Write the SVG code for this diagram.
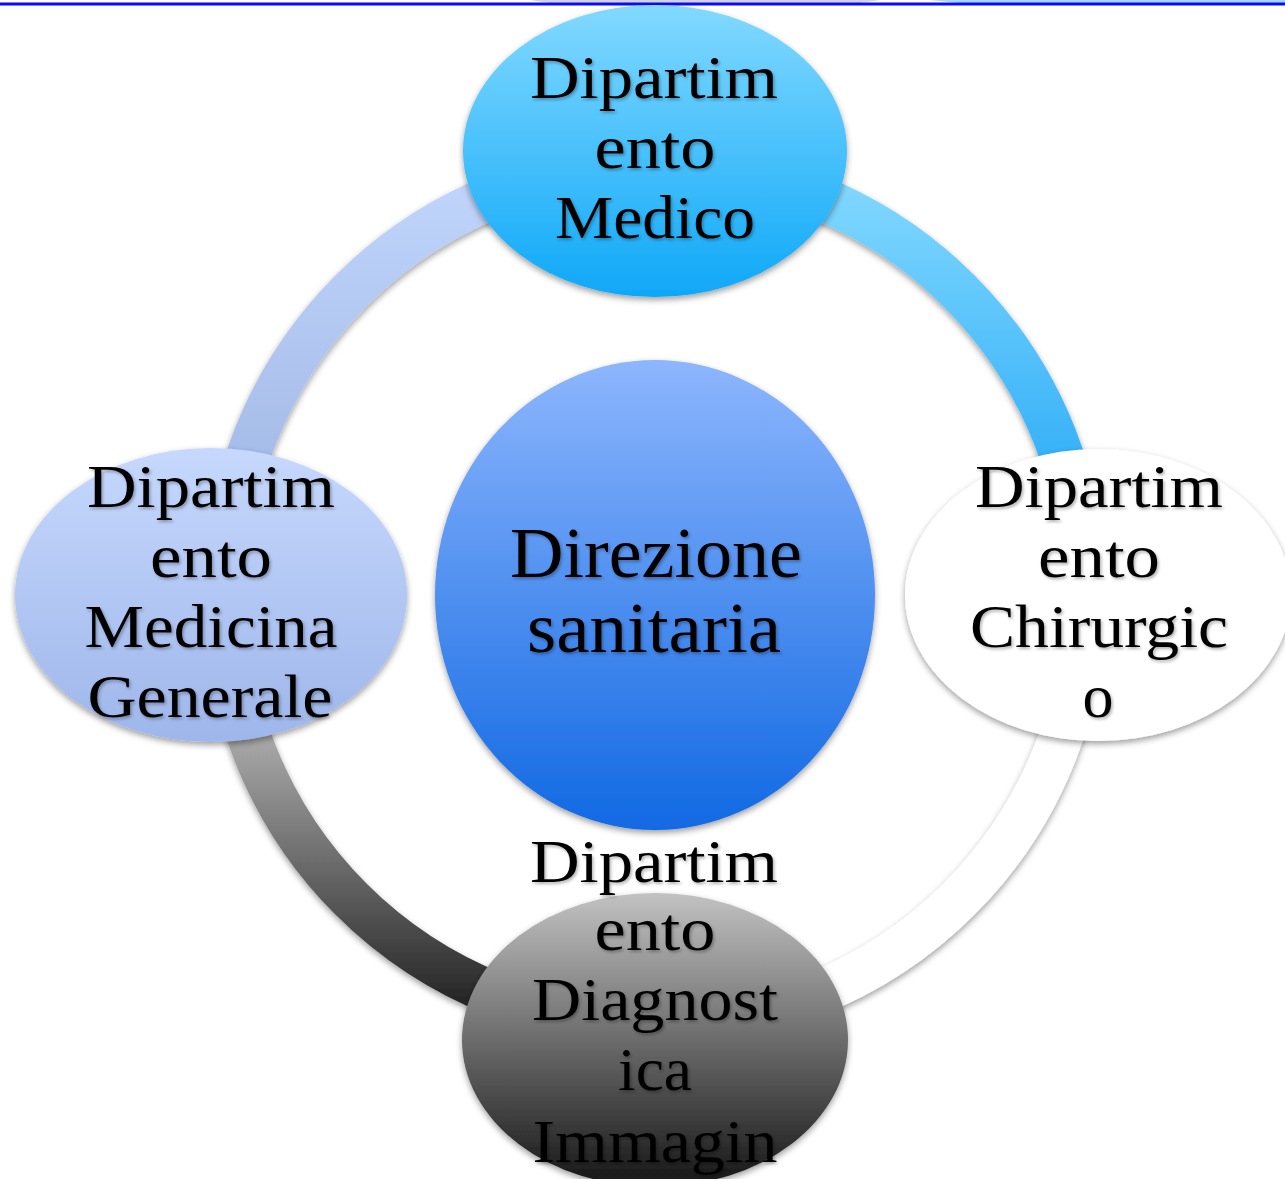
<svg xmlns="http://www.w3.org/2000/svg" width="1285" height="1179" viewBox="0 0 1285 1179">
<style>
.lbl{font-family:"Liberation Serif","Times New Roman",serif;font-size:62px;fill:#000;text-anchor:middle;filter:url(#tsh)}
.big{font-size:71px}
.arc{fill:none;stroke-width:44}
</style>
<defs>
<filter id="sh" x="-20%" y="-20%" width="140%" height="140%">
<feDropShadow dx="0" dy="3" stdDeviation="3" flood-color="#000" flood-opacity="0.38"/>
</filter>
<filter id="tsh" x="-10%" y="-20%" width="120%" height="150%">
<feDropShadow dx="1.5" dy="2" stdDeviation="1.5" flood-color="#000" flood-opacity="0.3"/>
</filter>
<linearGradient id="gTop" x1="0" y1="0" x2="0" y2="1"><stop offset="0" stop-color="#82d9ff"/><stop offset="1" stop-color="#0fa8f8"/></linearGradient>
<linearGradient id="gCenter" x1="0" y1="0" x2="0" y2="1"><stop offset="0" stop-color="#8db6fd"/><stop offset="1" stop-color="#1169e3"/></linearGradient>
<linearGradient id="gLeft" x1="0" y1="0" x2="0" y2="1"><stop offset="0" stop-color="#c6d8fd"/><stop offset="1" stop-color="#9eb6ea"/></linearGradient>
<linearGradient id="gBottom" x1="0" y1="0" x2="0" y2="1"><stop offset="0" stop-color="#c2c2c2"/><stop offset="1" stop-color="#151515"/></linearGradient>
<linearGradient id="aTR" gradientUnits="userSpaceOnUse" x1="0" y1="165" x2="0" y2="455"><stop offset="0" stop-color="#86daff"/><stop offset="1" stop-color="#38b2f8"/></linearGradient>
<linearGradient id="aTL" gradientUnits="userSpaceOnUse" x1="0" y1="165" x2="0" y2="455"><stop offset="0" stop-color="#c2d6fc"/><stop offset="1" stop-color="#a6bde9"/></linearGradient>
<linearGradient id="aBL" gradientUnits="userSpaceOnUse" x1="0" y1="740" x2="0" y2="1010"><stop offset="0" stop-color="#a8a8a8"/><stop offset="1" stop-color="#222222"/></linearGradient>
</defs>
<rect width="1285" height="1179" fill="#fff"/>
<g id="topbar">
<path d="M530 0 L880 0 L860 3 L550 3 Z" fill="#d4d4d4"/>
<path d="M930 0 L1285 0 L1285 3 L960 3 Z" fill="#a8d8f8"/>
<line x1="0" y1="4" x2="1285" y2="4" stroke="#0a0aff" stroke-width="3"/>
</g>
<g id="connectors" filter="url(#sh)">
<path class="arc" d="M655 165 A430 430 0 0 1 1085 595" stroke="url(#aTR)"/>
<path class="arc" d="M1085 595 A430 430 0 0 1 655 1025" stroke="#ffffff"/>
<path class="arc" d="M655 1025 A430 430 0 0 1 225 595" stroke="url(#aBL)"/>
<path class="arc" d="M225 595 A430 430 0 0 1 655 165" stroke="url(#aTL)"/>
</g>
<g id="center">
<ellipse cx="655" cy="595" rx="220" ry="235" fill="url(#gCenter)" filter="url(#sh)"/>
<text class="lbl big" x="656" y="577" textLength="292" lengthAdjust="spacingAndGlyphs">Direzione</text>
<text class="lbl big" x="654" y="652" textLength="254" lengthAdjust="spacingAndGlyphs">sanitaria</text>
</g>
<g id="top">
<ellipse cx="655" cy="151" rx="192" ry="146" fill="url(#gTop)" filter="url(#sh)"/>
<text class="lbl" x="654" y="98" textLength="248" lengthAdjust="spacingAndGlyphs">Dipartim</text>
<text class="lbl" x="655" y="168" textLength="121" lengthAdjust="spacingAndGlyphs">ento</text>
<text class="lbl" x="655" y="238" textLength="200" lengthAdjust="spacingAndGlyphs">Medico</text>
</g>
<g id="right">
<ellipse cx="1098" cy="595" rx="193" ry="146" fill="#ffffff" filter="url(#sh)"/>
<text class="lbl" x="1099" y="507" textLength="248" lengthAdjust="spacingAndGlyphs">Dipartim</text>
<text class="lbl" x="1099" y="577" textLength="122" lengthAdjust="spacingAndGlyphs">ento</text>
<text class="lbl" x="1099" y="647" textLength="258" lengthAdjust="spacingAndGlyphs">Chirurgic</text>
<text class="lbl" x="1098" y="717">o</text>
</g>
<g id="left">
<ellipse cx="211" cy="595" rx="196" ry="147" fill="url(#gLeft)" filter="url(#sh)"/>
<text class="lbl" x="211" y="507" textLength="248" lengthAdjust="spacingAndGlyphs">Dipartim</text>
<text class="lbl" x="211" y="577" textLength="122" lengthAdjust="spacingAndGlyphs">ento</text>
<text class="lbl" x="211" y="647" textLength="253" lengthAdjust="spacingAndGlyphs">Medicina</text>
<text class="lbl" x="210" y="717" textLength="245" lengthAdjust="spacingAndGlyphs">Generale</text>
</g>
<g id="bottom">
<ellipse cx="655" cy="1040" rx="193" ry="147" fill="url(#gBottom)" filter="url(#sh)"/>
<text class="lbl" x="654" y="882" textLength="248" lengthAdjust="spacingAndGlyphs">Dipartim</text>
<text class="lbl" x="655" y="950" textLength="121" lengthAdjust="spacingAndGlyphs">ento</text>
<text class="lbl" x="655" y="1020" textLength="246" lengthAdjust="spacingAndGlyphs">Diagnost</text>
<text class="lbl" x="655" y="1090" textLength="74" lengthAdjust="spacingAndGlyphs">ica</text>
<text class="lbl" x="655" y="1162" textLength="245" lengthAdjust="spacingAndGlyphs">Immagin</text>
</g>
</svg>
